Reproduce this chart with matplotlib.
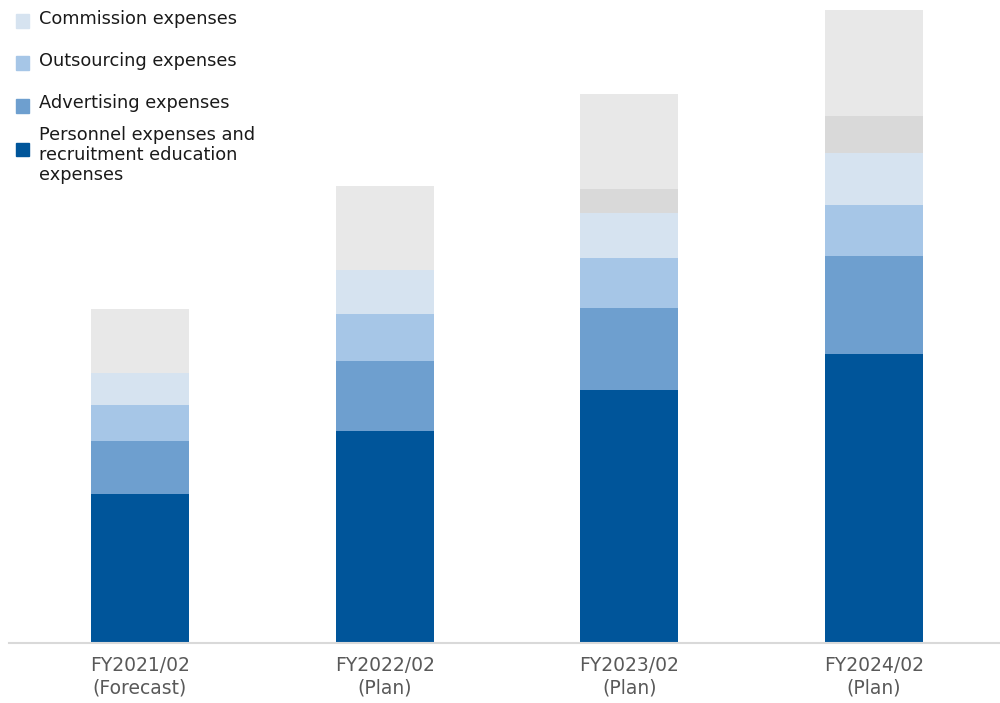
import matplotlib
matplotlib.use("Agg")
import matplotlib.pyplot as plt
import numpy as np
from matplotlib.patches import Rectangle

years = ["FY2021/02\n(Forecast)", "FY2022/02\n(Plan)", "FY2023/02\n(Plan)", "FY2024/02\n(Plan)"]
personnel = [149, 212, 253, 289]
advertising = [53, 70, 82, 98]
outsourcing = [36, 47, 50, 51]
commission = [32, 44, 45, 52]
other_dark = [0, 0, 24, 37]
other_light = [64, 84, 95, 106]

series = [personnel, advertising, outsourcing, commission, other_dark, other_light]
colors = ["#00559a", "#6e9fcf", "#a6c6e7", "#d6e3f0", "#d9d9d9", "#e8e8e8"]
legend_labels = ["Personnel expenses and\nrecruitment education\nexpenses",
                 "Advertising expenses", "Outsourcing expenses", "Commission expenses"]

fig = plt.figure(figsize=(10, 7.03), dpi=100)
ax = fig.add_axes([0.009, 0.0853, 0.991, 0.9147])

x = np.arange(len(years))
bottom = np.zeros(len(years))
for vals, c in zip(series, colors):
    ax.bar(x, vals, width=0.4, bottom=bottom, color=c, edgecolor="none")
    bottom += np.array(vals)

ax.set_xlim(-0.535, 3.515)
ax.set_ylim(0, 643)
ax.set_yticks([])
ax.set_xticks(x)
ax.set_xticklabels(years, fontsize=13.5, color="#595959", linespacing=1.25)
ax.tick_params(axis="x", length=0, pad=9)
for s in ["top", "right", "left"]:
    ax.spines[s].set_visible(False)
ax.spines["bottom"].set_color("#d9d9d9")
ax.spines["bottom"].set_linewidth(1.5)

# legend drawn by hand, top-left
W, H = 1000.0, 703.0
items = [(legend_labels[3], colors[3], 19, 21),
         (legend_labels[2], colors[2], 61, 63),
         (legend_labels[1], colors[1], 103, 106),
         (legend_labels[0], colors[0], 155, 149)]
for lab, c, ty, my in items:
    fig.patches.append(Rectangle((16 / W, 1 - (my + 6.5) / H), 13 / W, 13 / H,
                                 transform=fig.transFigure, color=c))
    fig.text(39 / W, 1 - ty / H, lab, fontsize=12.8, color="#1a1a1a",
             va="center", ha="left", linespacing=1.12)

fig.savefig("out.png", dpi=100)
